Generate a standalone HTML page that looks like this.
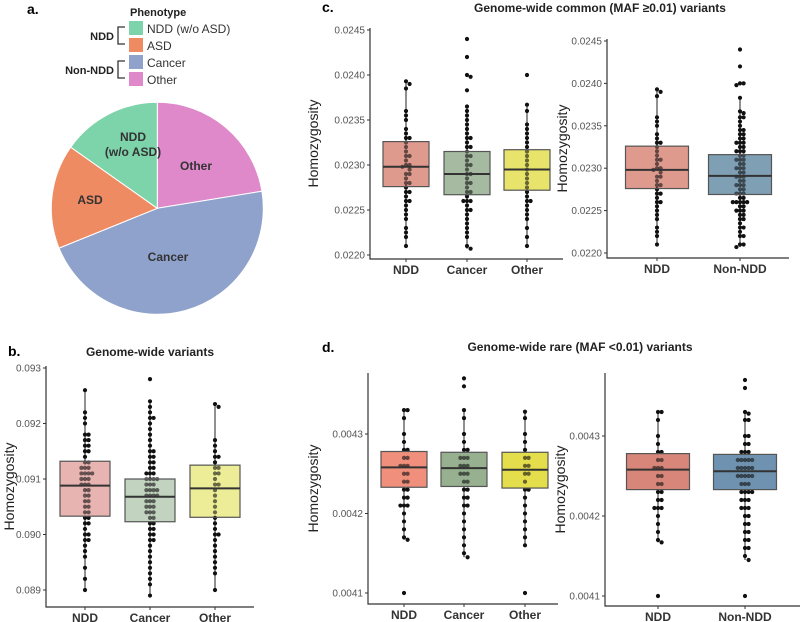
<!DOCTYPE html>
<html><head><meta charset="utf-8"><style>
body{margin:0;background:#fff}
svg{display:block;font-family:"Liberation Sans",Arial,sans-serif}
</style></head><body>
<svg id="fig" width="800" height="622" viewBox="0 0 800 622">
<g id="pa">
<text x="27" y="14" font-size="14" font-weight="bold">a.</text>
<text x="130" y="16" font-size="11" font-weight="bold" fill="#222">Phenotype</text>
<g>
<rect x="129" y="21" width="14" height="14" fill="#7dd3aa"/>
<text x="147" y="33" font-size="12" fill="#333">NDD (w/o ASD)</text>
<rect x="129" y="38" width="14" height="14" fill="#ef8b63"/>
<text x="147" y="50" font-size="12" fill="#333">ASD</text>
<rect x="129" y="55" width="14" height="14" fill="#8fa2cc"/>
<text x="147" y="67" font-size="12" fill="#333">Cancer</text>
<rect x="129" y="72" width="14" height="14" fill="#df89cb"/>
<text x="147" y="84" font-size="12" fill="#333">Other</text>
<text x="114" y="40" font-size="11" font-weight="bold" text-anchor="end" fill="#222">NDD</text>
<path d="M125,27 H118 V44 H125" fill="none" stroke="#333" stroke-width="1.3"/>
<text x="114" y="74" font-size="11" font-weight="bold" text-anchor="end" fill="#222">Non-NDD</text>
<path d="M125,61 H118 V78 H125" fill="none" stroke="#333" stroke-width="1.3"/>
</g>
<g id="pie"></g>
</g>
<g id="plots"></g>
<text x="8" y="356" font-size="14" font-weight="bold">b.</text>
<text x="150" y="356" font-size="12" font-weight="bold" text-anchor="middle" fill="#222">Genome-wide variants</text>
<text x="322" y="12" font-size="14" font-weight="bold">c.</text>
<text x="600" y="12" font-size="12" font-weight="bold" text-anchor="middle" fill="#222">Genome-wide common (MAF ≥0.01) variants</text>
<text x="322" y="352" font-size="14" font-weight="bold">d.</text>
<text x="580" y="351" font-size="12" font-weight="bold" text-anchor="middle" fill="#222">Genome-wide rare (MAF &lt;0.01) variants</text>
</svg>
<script>
// Pie data
const pieCats=["Other","Cancer","ASD","NDD"];
const pieVals=[22.4,46.4,15.9,15.2];
const pieColors=["#df89cb","#8fa2cc","#ef8b63","#7dd3aa"];
// Panel b data
const bNDD=[0.0926,0.0922,0.0921,0.0920,0.0918,0.0918,0.0917,0.0917,0.0916,0.0916,0.0915,0.0915,0.0914,0.0913,0.0913,0.0912,0.0912,0.0912,0.0911,0.0911,0.0911,0.0911,0.0910,0.0910,0.0910,0.0909,0.0909,0.0909,0.0908,0.0908,0.0907,0.0907,0.0906,0.0906,0.0905,0.0905,0.0904,0.0904,0.0903,0.0903,0.0902,0.0902,0.0901,0.0900,0.0900,0.0899,0.0899,0.0898,0.0897,0.0896,0.0894,0.0892,0.0890];
const bCancer=[0.0928,0.0924,0.0923,0.0922,0.0921,0.0921,0.0920,0.0919,0.0918,0.0917,0.0916,0.0915,0.0915,0.0914,0.0914,0.0913,0.0913,0.0912,0.0912,0.0911,0.0911,0.0911,0.0910,0.0910,0.0910,0.0910,0.0909,0.0909,0.0909,0.0908,0.0908,0.0908,0.0908,0.0907,0.0907,0.0907,0.0907,0.0906,0.0906,0.0906,0.0905,0.0905,0.0905,0.0904,0.0904,0.0904,0.0903,0.0903,0.0902,0.0902,0.0901,0.0901,0.0900,0.0900,0.0899,0.0899,0.0898,0.0897,0.0896,0.0895,0.0894,0.0893,0.0892,0.0891,0.0889];
const bOther=[0.09235,0.0923,0.0917,0.0916,0.0915,0.0914,0.0914,0.0913,0.0912,0.0912,0.0911,0.0911,0.0910,0.0909,0.0909,0.0908,0.0907,0.0906,0.0905,0.0904,0.0903,0.0902,0.0901,0.0900,0.0900,0.0899,0.0898,0.0897,0.0896,0.0895,0.0894,0.0893,0.0890];
// box stats [lowWhisker,q1,median,q3,highWhisker]
const bStats=[[0.0890,0.09033,0.09088,0.09132,0.0926],[0.0889,0.09023,0.09068,0.0910,0.09237],[0.0890,0.09031,0.09083,0.09125,0.09235]];
const bTicks=[0.089,0.090,0.091,0.092,0.093];
const bTickLabels=["0.089","0.090","0.091","0.092","0.093"];
// Panel c data
const cNDD=[0.02393,0.0239,0.02385,0.0236,0.02355,0.0235,0.0234,0.02335,0.0233,0.0233,0.02325,0.0232,0.02315,0.0231,0.0231,0.02305,0.023,0.023,0.02298,0.02295,0.0229,0.0229,0.02285,0.0228,0.0228,0.02275,0.0227,0.0227,0.02265,0.0226,0.0226,0.02255,0.0225,0.02245,0.0224,0.0223,0.02225,0.0222,0.0221];
const cCancer=[0.0244,0.0242,0.024,0.02398,0.02383,0.02365,0.0236,0.02355,0.0235,0.02345,0.0234,0.02335,0.0233,0.0233,0.02325,0.0232,0.0232,0.02315,0.0231,0.0231,0.02305,0.023,0.023,0.02295,0.0229,0.0229,0.02285,0.0228,0.0228,0.02275,0.0227,0.0227,0.02265,0.0226,0.0226,0.0226,0.02255,0.0225,0.0225,0.02245,0.0224,0.02235,0.0223,0.02225,0.0222,0.0221,0.02207];
const cOther=[0.024,0.02367,0.0236,0.02345,0.0234,0.02335,0.0233,0.02325,0.0232,0.02315,0.0231,0.02305,0.023,0.02295,0.0229,0.02285,0.0228,0.02275,0.0227,0.02265,0.0226,0.0226,0.02255,0.0225,0.02245,0.0224,0.0223,0.0222,0.0221];
const cStats3=[[0.0221,0.02276,0.02298,0.02326,0.02393],[0.02207,0.02267,0.0229,0.02315,0.02365],[0.0221,0.02272,0.02295,0.02317,0.02367]];
const cStats2=[[0.0221,0.02276,0.02298,0.02326,0.02393],[0.02207,0.02269,0.02291,0.02316,0.02383]];
const cTicks=[0.022,0.0225,0.023,0.0235,0.024,0.0245];
const cTickLabels=["0.0220","0.0225","0.0230","0.0235","0.0240","0.0245"];
// Panel d data
const dNDD=[0.00433,0.00433,0.00432,0.0043,0.00429,0.00428,0.00428,0.00427,0.00427,0.00426,0.00426,0.00426,0.00425,0.00425,0.00424,0.00424,0.00423,0.00423,0.00422,0.00422,0.00421,0.00421,0.00421,0.0042,0.00419,0.00418,0.00417,0.004167,0.0041];
const dCancer=[0.00437,0.00436,0.00433,0.00432,0.0043,0.00429,0.00428,0.00428,0.00427,0.00427,0.00427,0.00426,0.00426,0.00426,0.00425,0.00425,0.00425,0.00424,0.00424,0.00423,0.00423,0.00422,0.00422,0.00421,0.00421,0.0042,0.00419,0.00418,0.00417,0.00416,0.00415,0.004145];
const dOther=[0.004328,0.00432,0.0043,0.00429,0.00428,0.00427,0.00427,0.00426,0.00426,0.00425,0.00425,0.00424,0.00423,0.00423,0.00422,0.00421,0.0042,0.00419,0.00418,0.00417,0.00416,0.0041];
const dStats3=[[0.004167,0.004233,0.004258,0.004278,0.00433],[0.004145,0.004234,0.004257,0.004277,0.00433],[0.00416,0.004232,0.004255,0.004277,0.004328]];
const dStats2=[[0.004167,0.004233,0.004258,0.004278,0.00433],[0.004145,0.004233,0.004256,0.004277,0.00433]];
const dTicks=[0.0041,0.0042,0.0043];
const dTickLabels=["0.0041","0.0042","0.0043"];

const NS="http://www.w3.org/2000/svg";
function mk(tag,attrs,parent){const e=document.createElementNS(NS,tag);for(const k in attrs)e.setAttribute(k,attrs[k]);parent.appendChild(e);return e;}

// Pie
(function(){
 const g=document.getElementById('pie');const cx=157.3,cy=208.3,r=106;
 const total=pieVals.reduce((a,b)=>a+b,0);let a0=0;
 pieVals.forEach((v,i)=>{
  const a1=a0+v/total*2*Math.PI;
  const x0=cx+r*Math.sin(a0),y0=cy-r*Math.cos(a0),x1=cx+r*Math.sin(a1),y1=cy-r*Math.cos(a1);
  const p=mk('path',{d:`M${cx},${cy}L${x0},${y0}A${r},${r} 0 ${a1-a0>Math.PI?1:0} 1 ${x1},${y1}Z`,fill:pieColors[i],stroke:'#fff','stroke-width':1},g);
  
  
  a0=a1;
 });
 const labs=[["Other",196,170],["Cancer",168,261],["ASD",90,204],["NDD",133,141],["(w/o ASD)",133,156]];
 labs.forEach(l=>{const t=mk('text',{x:l[1],y:l[2],'font-size':12,'font-weight':'bold',fill:'#333','text-anchor':'middle'},g);t.textContent=l[0];
  
  });
})();

function panel(o){
 const g=mk('g',{},document.getElementById('plots'));
 
 
 const y=v=>o.y0+(v-o.t0)*(o.y1-o.y0)/(o.t1-o.t0);
 const ax=mk('path',{d:`M${o.ax},${o.top}V${o.bottom}H${o.right}`,fill:'none',stroke:'#333','stroke-width':1.2},g);
 
 
 o.ticks.forEach((t,i)=>{
  mk('line',{x1:o.ax-3,x2:o.ax,y1:y(t),y2:y(t),stroke:'#333'},g);
  const tl=mk('text',{x:o.ax-5,y:y(t)+3.5,'font-size':10,fill:'#555','text-anchor':'end'},g);
  tl.textContent=o.tickLabels[i];
  
  
 });
 const yt=mk('text',{x:o.titleX,y:(o.top+o.bottom)/2,'font-size':14,fill:'#222','text-anchor':'middle',transform:`rotate(-90 ${o.titleX} ${(o.top+o.bottom)/2})`},g);
 yt.textContent='Homozygosity';
 
 
 o.cats.forEach((c,ci)=>{
  const cx=o.xs[ci],s=o.stats[ci],w=o.bw;
  mk('line',{x1:cx,x2:cx,y1:o.bottom,y2:o.bottom+3,stroke:'#333'},g);
  const xl=mk('text',{x:cx,y:o.bottom+15,'font-size':12,'font-weight':'bold',fill:'#333','text-anchor':'middle'},g);
  xl.textContent=c;
  
  
  const wl=mk('line',{x1:cx,x2:cx,y1:y(s[0]),y2:y(s[4]),stroke:'#222','stroke-width':1},g);
  
  
  const b=mk('rect',{x:cx-w/2,y:y(s[3]),width:w,height:y(s[1])-y(s[3]),fill:o.colors[ci]},g);
  
  
  const pts=o.data[ci].map(v=>y(v)).sort((a,b)=>a-b);const placed=[];
  pts.forEach(py=>{let k=placed.filter(q=>Math.abs(q-py)<4).length;placed.push(py);
   const off=(k%2?1:-1)*Math.ceil(k/2)*3.6;
   const inBox=py>=y(s[3])&&py<=y(s[1]);
   const c0=mk('circle',{cx:cx+off,cy:py,r:2.1,fill:'#111','fill-opacity':inBox?0.6:1},g);
   
   });
  const bo=mk('rect',{x:cx-w/2,y:y(s[3]),width:w,height:y(s[1])-y(s[3]),fill:'none',stroke:'#555','stroke-width':1.2},g);
  
  
  const m=mk('line',{x1:cx-w/2,x2:cx+w/2,y1:y(s[2]),y2:y(s[2]),stroke:'#333','stroke-width':2},g);
  
  
 });
}
panel({name:'panel-b-plot',ax:46,top:366,bottom:607,right:254,y0:590,y1:368,t0:0.089,t1:0.093,ticks:bTicks,tickLabels:bTickLabels,titleX:14,
 cats:["NDD","Cancer","Other"],xs:[85,150,215],bw:50,stats:bStats,data:[bNDD,bCancer,bOther],colors:["#e8b4b1","#c2d3c0","#eded98"]});
panel({name:'panel-c-left-plot',ax:370,top:28,bottom:259,right:563,y0:255,y1:30,t0:0.022,t1:0.0245,ticks:cTicks,tickLabels:cTickLabels,titleX:318,
 cats:["NDD","Cancer","Other"],xs:[406,467,527],bw:46,stats:cStats3,data:[cNDD,cCancer,cOther],colors:["#df9a8e","#a5baa0","#e8e36a"]});
panel({name:'panel-c-right-plot',ax:607,top:39,bottom:258,right:789,y0:253,y1:41,t0:0.022,t1:0.0245,ticks:cTicks,tickLabels:cTickLabels,titleX:567,
 cats:["NDD","Non-NDD"],xs:[657,740],bw:63,stats:cStats2,data:[cNDD,cCancer.concat(cOther)],colors:["#df9a8e","#7f9fb5"]});
panel({name:'panel-d-left-plot',ax:368,top:373,bottom:604,right:558,y0:593,y1:434,t0:0.0041,t1:0.0043,ticks:dTicks,tickLabels:dTickLabels,titleX:318,
 cats:["NDD","Cancer","Other"],xs:[404,464,525],bw:46,stats:dStats3,data:[dNDD,dCancer,dOther],colors:["#f0907c","#97b08f","#e4de4c"]});
panel({name:'panel-d-right-plot',ax:605,top:373,bottom:606,right:800,y0:596,y1:436,t0:0.0041,t1:0.0043,ticks:dTicks,tickLabels:dTickLabels,titleX:565,
 cats:["NDD","Non-NDD"],xs:[658,745],bw:63,stats:dStats2,data:[dNDD,dCancer.concat(dOther)],colors:["#d9867a","#6f92b0"]});
</script>
</body></html>
